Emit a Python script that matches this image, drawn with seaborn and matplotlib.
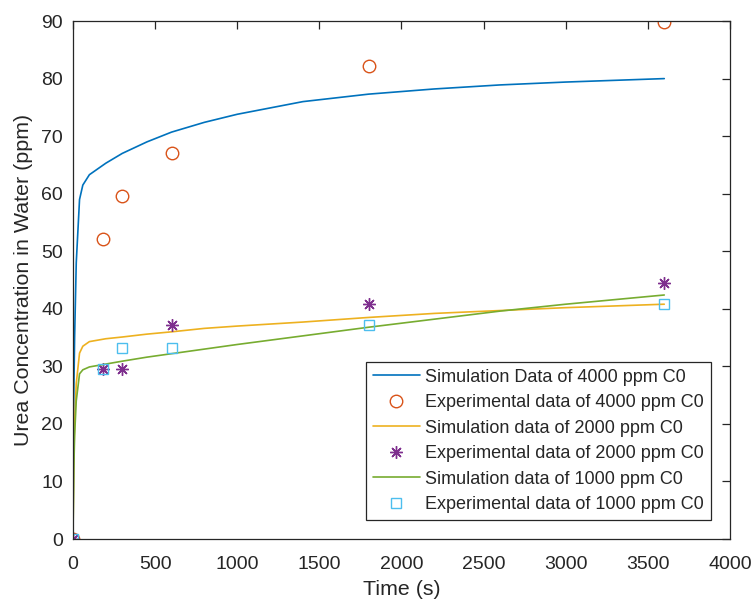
import matplotlib
matplotlib.use("Agg")
import matplotlib.pyplot as plt
import seaborn as sns

# simulated curves
sim_time = [0, 5, 10, 20, 40, 60, 100, 200, 300, 450, 600, 800, 1000, 1400, 1800, 2200, 2600, 3000, 3600]
sim_4000 = [0, 25, 35, 48, 59, 61.5, 63.3, 65.3, 67.0, 69.0, 70.7, 72.4, 73.8, 76.0, 77.3, 78.2, 78.9, 79.4, 80.0]
sim_2000 = [0, 14, 20, 27, 32.3, 33.5, 34.3, 34.8, 35.1, 35.6, 36.0, 36.6, 37.0, 37.7, 38.5, 39.2, 39.7, 40.2, 40.8]
sim_1000 = [0, 12, 18, 24, 28.7, 29.4, 29.9, 30.4, 30.9, 31.6, 32.2, 33.0, 33.8, 35.3, 36.8, 38.2, 39.6, 40.8, 42.4]

# experimental points
exp_time = [0, 180, 300, 600, 1800, 3600]
exp_4000 = [0, 52.1, 59.6, 67.1, 82.2, 89.8]
exp_2000 = [0, 29.5, 29.5, 37.2, 40.8, 44.5]
exp_1000 = [0, 29.5, 33.2, 33.2, 37.2, 40.9]

# matlab default colours
c_blue, c_orange, c_yellow = "#0072BD", "#D95319", "#EDB120"
c_purple, c_green, c_cyan = "#7E2F8E", "#77AC30", "#4DBEEE"
axis_grey = "#262626"

sns.set_theme(style="white")
plt.rcParams["font.family"] = ["Liberation Sans", "DejaVu Sans"]

fig = plt.figure(figsize=(7.53, 6.03), dpi=100)
ax = fig.add_axes([0.0969, 0.1061, 0.8725, 0.8590])

lw = 1.2
sns.lineplot(x=sim_time, y=sim_4000, ax=ax, color=c_blue, lw=lw, sort=False, estimator=None,
             label="Simulation Data of 4000 ppm C0")
sns.lineplot(x=exp_time, y=exp_4000, ax=ax, color=c_orange, linestyle="none", marker="o",
             markersize=9, mfc="none", mec=c_orange, mew=1.0, sort=False, estimator=None,
             label="Experimental data of 4000 ppm C0")
sns.lineplot(x=sim_time, y=sim_2000, ax=ax, color=c_yellow, lw=lw, sort=False, estimator=None,
             label="Simulation data of 2000 ppm C0")
sns.lineplot(x=exp_time, y=exp_2000, ax=ax, color=c_purple, linestyle="none", marker=(8, 2, 0),
             markersize=9, mec=c_purple, mew=1.0, sort=False, estimator=None,
             label="Experimental data of 2000 ppm C0")
sns.lineplot(x=sim_time, y=sim_1000, ax=ax, color=c_green, lw=lw, sort=False, estimator=None,
             label="Simulation data of 1000 ppm C0")
sns.lineplot(x=exp_time, y=exp_1000, ax=ax, color=c_cyan, linestyle="none", marker="s",
             markersize=7.5, mfc="none", mec=c_cyan, mew=1.0, sort=False, estimator=None,
             label="Experimental data of 1000 ppm C0")

ax.set_xlim(0, 4000)
ax.set_ylim(0, 90)
ax.set_xticks(range(0, 4001, 500))
ax.set_yticks(range(0, 91, 10))
ax.tick_params(direction="in", top=True, right=True, length=6, width=0.9,
               labelsize=14, pad=7, colors=axis_grey)
ax.tick_params(axis="x", pad=12)
ax.set_xlabel("Time (s)", fontsize=15.4, color=axis_grey, labelpad=5)
ax.set_ylabel("Urea Concentration in Water (ppm)", fontsize=15.4, color=axis_grey, labelpad=6)
for s in ax.spines.values():
    s.set_color(axis_grey)
    s.set_linewidth(0.9)

leg = ax.legend(loc="lower right", fontsize=13.0, frameon=True, fancybox=False,
                framealpha=1, edgecolor=axis_grey, borderaxespad=1.05, borderpad=0.38,
                labelspacing=0.47, handlelength=2.6, handletextpad=0.3)
leg.get_frame().set_linewidth(0.9)

fig.savefig("out.png", dpi=100)
